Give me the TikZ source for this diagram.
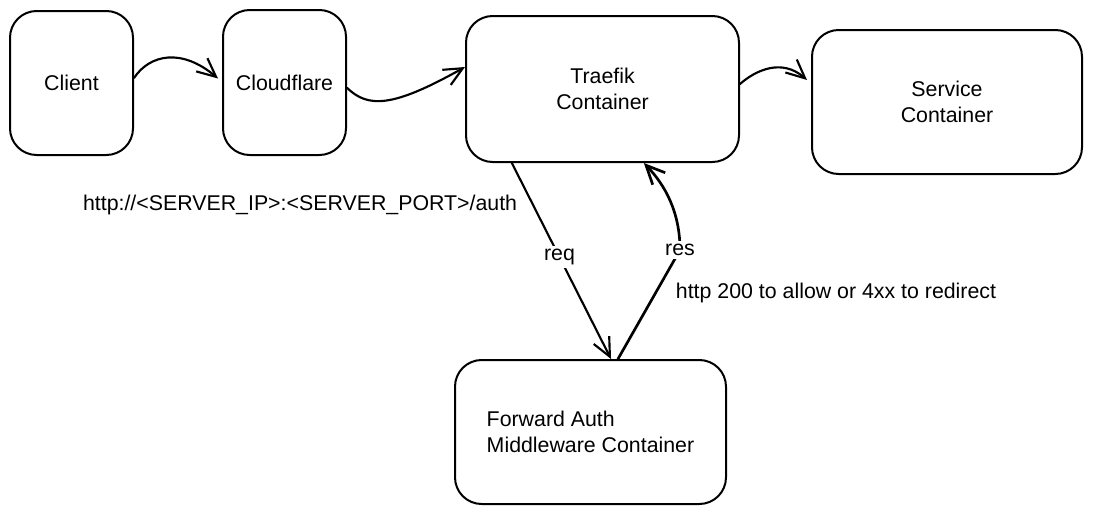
\documentclass[tikz,border=0pt]{standalone}
\usepackage{fontspec}
\setmainfont{Liberation Sans}
\usetikzlibrary{arrows.meta}

\begin{document}
\begin{tikzpicture}[x=0.75pt, y=-0.75pt,
        box/.style={draw, line width=1.5pt, rounded corners=20pt, align=center,
            font=\fontsize{16}{19}\selectfont},
        flow/.style={line width=1.6pt, line cap=round,
            -{Straight Barb[length=14pt,width=13pt]}},
        lbl/.style={font=\fontsize{16}{19}\selectfont, fill=white, inner sep=2pt}]
    \path[use as bounding box, fill=white] (0,0) rectangle (1093,514);

    % containers
    \node[box, minimum width=92.25pt, minimum height=108pt] (client) at (71.5,83) {Client};
    \node[box, minimum width=92.25pt, minimum height=108.75pt] (cloudflare) at (284.5,82.5) {Cloudflare};
    \node[box, minimum width=204.75pt, minimum height=109.5pt] (traefik) at (602.5,89) {Traefik\\Container};
    \node[box, minimum width=202.5pt, minimum height=108pt] (service) at (947,102) {Service\\Container};
    \node[box, align=left, minimum width=203.25pt, minimum height=108pt] (fwdauth) at (590.5,432)
        {Forward Auth\\Middleware Container};

    % request path
    \draw[flow] ([yshift=3.75pt]client.east) .. controls (150,54) and (182,48) .. ([yshift=3pt,xshift=-3pt]cloudflare.west);
    \draw[flow] ([yshift=-4pt]cloudflare.east) .. controls (368,108) and (392,108) .. ([yshift=16.5pt]traefik.west);
    \draw[flow] ([yshift=3.75pt]traefik.east) .. controls (756,70) and (782,58) .. ([yshift=16.5pt,xshift=-3pt]service.west);

    % forward auth round trip
    \draw[flow] ([xshift=-68pt]traefik.south) -- node[lbl, pos=0.48] (req) {req} ([xshift=15.4pt]fwdauth.north);
    \draw[flow, line width=2pt] ([xshift=20.6pt]fwdauth.north) -- (680,250) node[lbl] (res) {res}
        .. controls (680,212) and (665,185) .. ([xshift=31pt]traefik.south);

    \node[lbl, anchor=east] (authurl) at (520,205) {http://<SERVER\_IP>:<SERVER\_PORT>/auth};
    \node[lbl, anchor=west] (verdict) at (673,293) {http 200 to allow or 4xx to redirect};
\end{tikzpicture}
\end{document}
